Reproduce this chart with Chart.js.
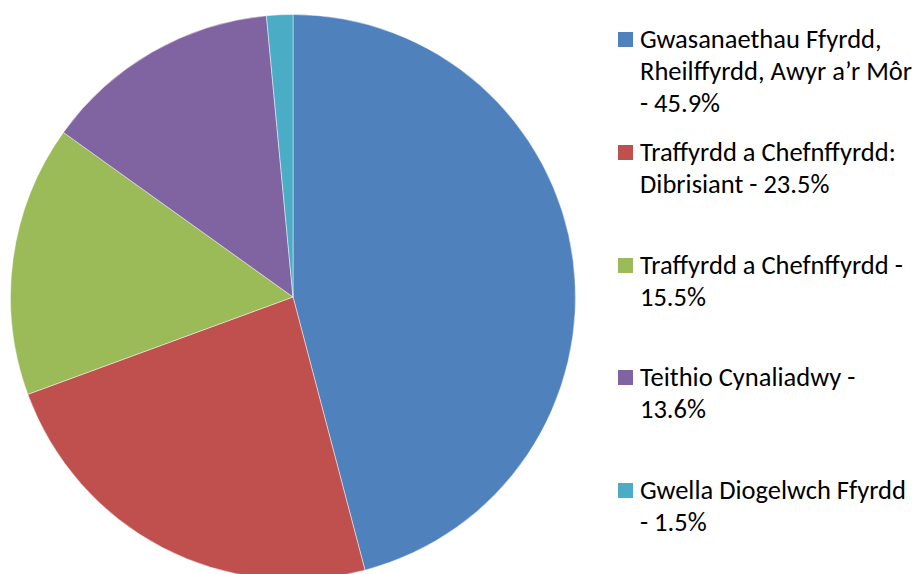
<!DOCTYPE html>
<html>
<head>
<meta charset="utf-8">
<script src="https://cdn.jsdelivr.net/npm/chart.js@4/dist/chart.umd.min.js"></script>
<style>
  html, body { margin: 0; padding: 0; background: #fff; overflow: hidden; }
  body { width: 919px; height: 574px; position: relative; }
  #pieBox { position: absolute; left: 10px; top: 14px; width: 566px; height: 566px; }
  #legend { position: absolute; left: 0; top: 0; }
  .lg-item { position: absolute; left: 618px; font-family: Carlito, "Liberation Sans", Arial, sans-serif;
    font-size: 26.5px; line-height: 32px; color: #000; white-space: nowrap; }
  .lg-box { position: absolute; left: 0; top: 9px; width: 15px; height: 15px; }
  .lg-text { position: absolute; left: 22px; top: 0; }
</style>
</head>
<body>
<div id="pieBox"><canvas id="pie"></canvas></div>
<div id="legend"></div>
<script>
/* Welsh transport budget split - pie */

const categories = [
  'Gwasanaethau Ffyrdd, Rheilffyrdd, Awyr a’r Môr',
  'Traffyrdd a Chefnffyrdd: Dibrisiant',
  'Traffyrdd a Chefnffyrdd',
  'Teithio Cynaliadwy',
  'Gwella Diogelwch Ffyrdd'
];
const shares = [45.9, 23.5, 15.5, 13.6, 1.5];
// legend text as it wraps in the original
const legendLines = [
  ['Gwasanaethau Ffyrdd,', 'Rheilffyrdd, Awyr a’r Môr', '- 45.9%'],
  ['Traffyrdd a Chefnffyrdd:', 'Dibrisiant - 23.5%'],
  ['Traffyrdd a Chefnffyrdd -', '15.5%'],
  ['Teithio Cynaliadwy -', '13.6%'],
  ['Gwella Diogelwch Ffyrdd', '- 1.5%']
];
const sliceColors = ['#4F81BD', '#C0504D', '#9BBB59', '#8064A2', '#4BACC6'];

const htmlLegend = {
  id: 'htmlLegend',
  afterUpdate(chart) {
    const box = document.getElementById('legend');
    box.innerHTML = '';
    const ds = chart.data.datasets[0];
    chart.data.labels.forEach((label, i) => {
      const item = document.createElement('div');
      item.className = 'lg-item';
      item.style.top = (23 + i * 112.75) + 'px';
      const sw = document.createElement('span');
      sw.className = 'lg-box';
      sw.style.background = ds.backgroundColor[i];
      const txt = document.createElement('span');
      txt.className = 'lg-text';
      txt.innerHTML = legendLines[i].join('<br>');
      item.appendChild(sw);
      item.appendChild(txt);
      box.appendChild(item);
    });
  }
};

new Chart(document.getElementById('pie'), {
  type: 'pie',
  data: {
    labels: categories,
    datasets: [{
      data: shares,
      backgroundColor: sliceColors,
      borderColor: 'rgba(255,255,255,0.45)',
      borderWidth: 1
    }]
  },
  options: {
    responsive: true,
    maintainAspectRatio: false,
    animation: false,
    layout: { padding: 0 },
    plugins: {
      legend: { display: false },
      tooltip: { enabled: false }
    }
  },
  plugins: [htmlLegend]
});
</script>
</body>
</html>
